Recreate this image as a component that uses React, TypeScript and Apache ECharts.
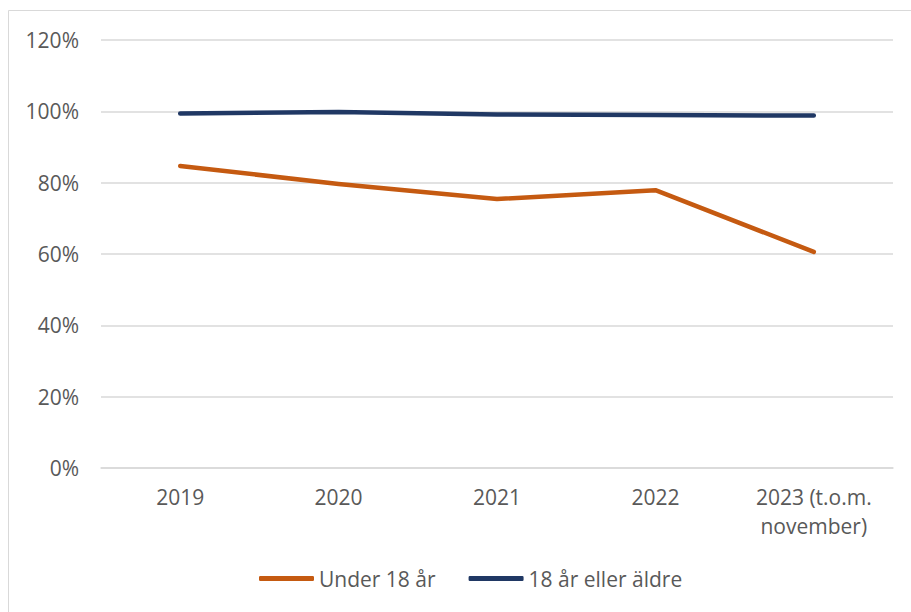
import React, { useEffect, useRef } from "react";
import * as echarts from "echarts";

const categories = ["2019", "2020", "2021", "2022", "2023 (t.o.m.\nnovember)"];
const under18 = [84.7, 79.6, 75.4, 77.9, 60.6];
const over18 = [99.4, 99.8, 99.1, 99.0, 98.8];
const seriesNames = ["Under 18 år", "18 år eller äldre"];

const FONT = "'Open Sans', 'Noto Sans', sans-serif";
const TEXT = "#595959";
const FS = 21;

export default function App() {
  const ref = useRef<HTMLDivElement>(null);
  useEffect(() => {
    if (!ref.current) return;
    const chart = echarts.init(ref.current, undefined, { renderer: "svg" });
    chart.setOption({
      animation: false,
      backgroundColor: "#ffffff",
      graphic: [
        {
          type: "rect",
          shape: { x: 8.5, y: 10.5, width: 1200, height: 1000 },
          style: { fill: "none", stroke: "#d9d9d9", lineWidth: 1 },
          silent: true,
        },
      ],
      grid: { left: 101, right: 18, top: 40, bottom: 144 },
      legend: {
        left: 259,
        top: 568,
        padding: 0,
        itemWidth: 55,
        itemHeight: 5,
        itemGap: 33,
        icon: "roundRect",
        textStyle: { color: TEXT, fontSize: FS, fontFamily: FONT },
        data: seriesNames,
      },
      xAxis: {
        type: "category",
        data: categories,
        boundaryGap: true,
        axisLine: { lineStyle: { color: "#d9d9d9", width: 1.5 } },
        axisTick: { show: false },
        axisLabel: {
          color: TEXT,
          fontSize: FS,
          fontFamily: FONT,
          margin: 14,
          lineHeight: 29,
          interval: 0,
        },
      },
      yAxis: {
        type: "value",
        min: 0,
        max: 120,
        interval: 20,
        axisLine: { show: false },
        axisTick: { show: false },
        splitLine: { lineStyle: { color: "#d9d9d9", width: 1.5 } },
        axisLabel: {
          color: TEXT,
          fontSize: FS,
          fontFamily: FONT,
          margin: 22,
          formatter: (v: number) => v + "%",
        },
      },
      series: [
        {
          name: seriesNames[0],
          type: "line",
          data: under18,
          symbol: "none",
          itemStyle: { color: "#c55a11" },
          lineStyle: { color: "#c55a11", width: 4.5, cap: "round", join: "round" },
        },
        {
          name: seriesNames[1],
          type: "line",
          data: over18,
          symbol: "none",
          itemStyle: { color: "#203864" },
          lineStyle: { color: "#203864", width: 4.5, cap: "round", join: "round" },
        },
      ],
    });
    return () => chart.dispose();
  }, []);
  return (
    <div
      ref={ref}
      style={{ position: "fixed", left: 0, top: 0, width: 911, height: 612 }}
    />
  );
}
